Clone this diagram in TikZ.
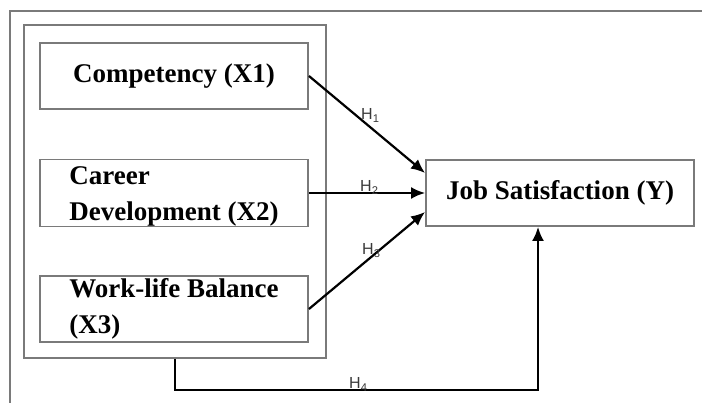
\documentclass[tikz,border=0pt]{standalone}
\usepackage{fontspec}
\setmainfont{Liberation Serif}
\setsansfont{Liberation Sans}
\usetikzlibrary{arrows.meta}
\definecolor{framegray}{HTML}{7A7A7A}
\definecolor{labgray}{HTML}{3A3A3A}
\tikzset{
  varbox/.style={draw=framegray, line width=1.9pt, rectangle, minimum width=268pt, minimum height=66pt, inner sep=0pt, align=left, font=\fontsize{27}{36}\selectfont\bfseries, text=black},
  groupbox/.style={draw=framegray, line width=1.9pt, rectangle, minimum width=302pt, minimum height=333pt, inner sep=0pt},
  arr/.style={draw=black, line width=2.2pt, -{Latex[length=14pt,width=12pt]}},
  hlab/.style={font=\sffamily\fontsize{16}{16}\selectfont, text=labgray, inner sep=0pt, anchor=base west}
}
\begin{document}
\begin{tikzpicture}[x=1pt,y=-1pt]
\useasboundingbox (0,0) rectangle (702,403);
\fill[white] (0,0) rectangle (702,403);
% outer frame
\coordinate (fa) at (10,403);
\coordinate (fb) at (10,11);
\coordinate (fc) at (702,11);
\draw[framegray, line width=1.9pt] (fa) -- (fb) -- (fc);
% group box
\node[groupbox] (grp) at (175,191.5) {};
% variable boxes
\node[varbox] (x1) at (174,76) {Competency (X1)};
\node[varbox] (x2) at (174,193) {\strut Career\\Development (X2)};
\node[varbox] (x3) at (174,309) {Work-life Balance\\(X3)};
\node[varbox] (y) at (560,193) {Job Satisfaction (Y)};
% connectors
\draw[arr] (x1.east) -- ([yshift=20pt]y.west);
\draw[arr] (x2.east) -- (y.west);
\draw[arr] (x3.east) -- ([yshift=-19pt]y.west);
\draw[arr] (grp.south) -- ++(0,31) -| ([xshift=-22pt]y.south);
% hypothesis labels
\node[hlab] (h1) at (361,120) {H\textsubscript{1}};
\node[hlab] (h2) at (360,192) {H\textsubscript{2}};
\node[hlab] (h3) at (362,255) {H\textsubscript{3}};
\node[hlab] (h4) at (349,389) {H\textsubscript{4}};
\end{tikzpicture}
\end{document}
